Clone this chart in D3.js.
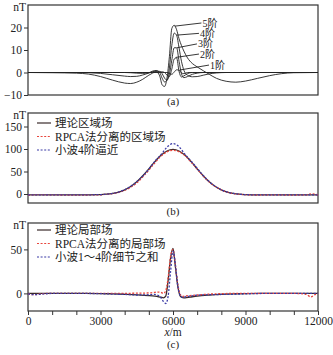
<!DOCTYPE html>
<html>
<head>
<meta charset="utf-8">
<script src="https://cdn.jsdelivr.net/npm/d3@7"></script>
<style>
  body { margin: 0; background: #fff; }
  svg text { font-family: "Liberation Serif", "Noto Sans CJK SC", serif; fill: #222; }
</style>
</head>
<body>
<div id="chart"></div>
<script>
// ---------- panel (a): wavelet details 1~5 ----------
const xA = [0, 1000, 2000, 2500, 3000, 3500, 4000, 4250, 4500, 4750, 5000, 5150, 5300, 5450, 5550, 5650, 5750, 5850, 5950, 6050, 6150, 6250, 6350, 6450, 6600, 6800, 7000, 7250, 7500, 7800, 8200, 8600, 9000, 9500, 10000, 10500, 11000, 12000];
const detail5 = [0, -0.1, -0.3, -0.7, -1.8, -3.4, -4.7, -4.9, -4.3, -3.0, -1.2, -0.3, 0.3, -1.5, -5.5, -6.2, -2.5, 7, 19.5, 21, 19, 15, 12, 9.5, 6.5, 4, 2.5, 0.8, -0.8, -2.6, -3.9, -4.3, -3.8, -2.6, -1.4, -0.5, -0.1, 0];
const detail4 = [0, 0, 0, -0.1, -0.4, -1.0, -1.6, -1.8, -1.7, -1.1, -0.2, 0.6, 0.9, 0, -2.5, -4.2, -3.5, 2, 12, 17.5, 16.5, 11, 5, 1, -1.2, -1.9, -1.8, -1.2, -0.6, -0.2, 0, 0, 0, 0, 0, 0, 0, 0];
const detail3 = [0, 0, 0, 0, 0, 0, 0, -0.1, -0.3, -0.4, -0.2, 0.3, 0.6, 0.5, -0.5, -2.5, -3.4, -1, 5.5, 11, 11, 5, -0.5, -2.3, -1.8, -0.8, -0.3, 0, 0, 0, 0, 0, 0, 0, 0, 0, 0, 0];
const detail2 = [0, 0, 0, 0, 0, 0, 0, 0, 0, 0, 0, 0.1, 0.2, 0.2, 0.3, 0, -1.2, -1.8, 1.5, 6, 6.5, 0.5, -2, -1.5, -0.5, 0, 0, 0, 0, 0, 0, 0, 0, 0, 0, 0, 0, 0];
const detail1 = [0, 0, 0, 0, 0, 0, 0, 0, 0, 0, 0, 0, 0, 0, 0, 0, 0, -0.3, -0.8, 0.2, 1.2, 1.0, -0.2, -0.5, 0, 0, 0, 0, 0, 0, 0, 0, 0, 0, 0, 0, 0, 0];
const detailNames = ["5阶", "4阶", "3阶", "2阶", "1阶"];
// label anchor and leader end, in data units (m, nT)
const labelAt = [[7175, 22.0], [7075, 17.4], [6990, 12.7], [7075, 8.2], [7490, 3.3]];
const leaderTo = [[6070, 20.6], [6140, 16.6], [6165, 11], [6110, 6.7], [6276, 1.1]];
const ticksA = [-10, 0, 10, 20];

// ---------- panel (b): regional field ----------
const xB = [0, 500, 1000, 2000, 3000, 3250, 3500, 3750, 4000, 4250, 4500, 4750, 5000, 5250, 5500, 5750, 6000, 6250, 6500, 6750, 7000, 7250, 7500, 7750, 8000, 8250, 8500, 8750, 9000, 9500, 10000, 11000, 11500, 11750, 12000];
const regionTheory = [-2, -2, -2, -2, -1.3, -0.5, 1.2, 4.1, 9.0, 16.5, 27.0, 40.5, 56.0, 71.9, 85.9, 95.6, 99, 95.6, 85.9, 71.9, 56.0, 40.5, 27.0, 16.5, 9.0, 4.1, 1.2, -0.5, -1.3, -2, -2, -2, -2, -2, -2];
const regionRPCA = [-2.5, -1.5, -2, -2.3, -1.8, -0.5, 0.8, 3.6, 8.2, 15, 24.5, 38, 53, 69.5, 84, 93.5, 97, 94, 85, 71, 55.5, 40, 26.5, 16.8, 9.2, 4.0, 1.0, -0.8, -1.6, -2.2, -2, -2.3, -1.8, 0.5, -2];
const regionWavelet = [-2, -2, -2, -2, -1.3, -0.5, 1.2, 4.3, 9.5, 17, 27.5, 40, 55, 73, 87, 104, 112, 105, 88, 73, 57, 41, 27.5, 17, 9.2, 4.2, 1.2, -0.5, -1.3, -2, -2, -2, -2, -2, -2];
const legendB = ["理论区域场", "RPCA法分离的区域场", "小波4阶逼近"];
const ticksB = [0, 50, 100, 150];

// ---------- panel (c): local field ----------
const xC = [0, 250, 500, 1000, 2000, 3000, 3500, 4000, 4500, 5000, 5250, 5400, 5500, 5600, 5700, 5800, 5900, 6000, 6100, 6200, 6300, 6400, 6500, 6700, 7000, 7500, 8000, 8500, 9000, 10000, 11000, 11500, 11700, 11900, 12000];
const localTheory = [0, 0, 0, 0, 0, -0.2, -0.5, -1, -1.6, -2.5, -3.2, -3.8, -4.3, -5, -3, 15, 40, 51, 30, 8, -3, -4.8, -5, -4.2, -3, -1.8, -1, -0.5, -0.2, 0, 0, 0, 0, 0, 0];
const localRPCA = [-0.5, -1.5, -0.5, 0, 0, 0, 0, 0, 0.3, 0.5, 1.2, 1.5, 1.2, 0, 3, 18, 42, 50, 32, 10, -1, -3.5, -3, -2.5, -1.8, -0.8, -0.3, 0, 0, 0, 0, -1, -4, -1, 0];
const localWavelet = [-0.5, -1.5, -1, 0, 0, -0.3, -0.8, -1.2, -1.8, -1.5, -1.2, -2.5, -5, -9, -11.5, -3, 25, 48, 32, 8, -2.5, -4.5, -4, -3, -2, -1.5, -1.2, -1, -0.5, 0, 0, 0, 0, 0, 0];
const legendC = ["理论局部场", "RPCA法分离的局部场", "小波1～4阶细节之和"];
const ticksC = [0, 50];
const xTicks = [0, 1000, 2000, 3000, 4000, 5000, 6000, 7000, 8000, 9000, 10000, 11000, 12000];
const xLabels = [0, 3000, 6000, 9000, 12000];

const W = 333, H = 355;
const left = 28, right = 318;
const colSolid = "#3a2a2a", colRed = "#e8453c", colBlue = "#3b3ba6";

const svg = d3.select("#chart").append("svg")
    .attr("width", W)
    .attr("height", H);

const x = d3.scaleLinear().domain([0, 12000]).range([left, right]);

function makePanel(top, bottom, domain, ticks, name, nameY) {
    let y = d3.scaleLinear().domain(domain).range([bottom, top]);
    let g = svg.append("g");

    g.append("rect")
        .attr("x", left).attr("y", top)
        .attr("width", right - left).attr("height", bottom - top)
        .attr("fill", "none").attr("stroke", "#333").attr("stroke-width", 1.2);

    let ax = g.append("g")
        .attr("transform", "translate(" + left + ",0)")
        .call(d3.axisLeft(y).tickValues(ticks).tickSize(4).tickPadding(2));
    ax.select(".domain").remove();
    ax.selectAll("line").attr("stroke", "#333");
    ax.selectAll("text").attr("font-size", 11.5).style("font-family", "Liberation Serif").attr("fill", "#222");

    g.append("text")
        .attr("x", left - 2).attr("y", top + 6)
        .attr("text-anchor", "end")
        .attr("font-size", 11.5)
        .text("nT");

    g.append("text")
        .attr("x", (left + right) / 2).attr("y", nameY)
        .attr("text-anchor", "middle")
        .attr("font-size", 11)
        .text(name);

    return {g: g, y: y};
}

function drawLine(panel, xs, ys, color, dash, width) {
    let line = d3.line()
        .x((d, i) => x(xs[i]))
        .y(d => panel.y(d))
        .curve(d3.curveMonotoneX);
    panel.g.append("path")
        .datum(ys)
        .attr("d", line)
        .attr("fill", "none")
        .attr("stroke", color)
        .attr("stroke-width", width)
        .attr("stroke-dasharray", dash);
}

function drawLegend(panel, names, rowY) {
    let styles = [[colSolid, null], [colRed, "2,1.6"], [colBlue, "2,1.6"]];
    names.forEach(function (n, i) {
        panel.g.append("line")
            .attr("x1", 37).attr("x2", 51)
            .attr("y1", rowY[i]).attr("y2", rowY[i])
            .attr("stroke", styles[i][0])
            .attr("stroke-width", 1.2)
            .attr("stroke-dasharray", styles[i][1]);
        panel.g.append("text")
            .attr("x", 55).attr("y", rowY[i] + 4)
            .attr("font-size", 11.5)
            .text(n);
    });
}

// panel (a)
let pa = makePanel(5, 95, [-10, 30], ticksA, "(a)", 105);
[detail1, detail2, detail3, detail4, detail5].forEach(function (d) {
    drawLine(pa, xA, d, "#222", null, 0.9);
});
detailNames.forEach(function (n, i) {
    pa.g.append("line")
        .attr("x1", x(labelAt[i][0])).attr("y1", pa.y(labelAt[i][1]))
        .attr("x2", x(leaderTo[i][0])).attr("y2", pa.y(leaderTo[i][1]))
        .attr("stroke", "#222").attr("stroke-width", 0.9);
    pa.g.append("text")
        .attr("x", x(labelAt[i][0]) + 1).attr("y", pa.y(labelAt[i][1]) + 3.5)
        .attr("font-size", 10)
        .text(n);
});

// panel (b)
let pb = makePanel(113, 203, [-20, 180], ticksB, "(b)", 215);
drawLine(pb, xB, regionTheory, colSolid, null, 1.3);
drawLine(pb, xB, regionRPCA, colRed, "2,1.6", 1.3);
drawLine(pb, xB, regionWavelet, colBlue, "2,1.6", 1.3);
drawLegend(pb, legendB, [123, 136.5, 150]);

// panel (c)
let pc = makePanel(223, 311, [-20, 80], ticksC, "(c)", 348);
drawLine(pc, xC, localTheory, colSolid, null, 1.3);
drawLine(pc, xC, localRPCA, colRed, "2,1.6", 1.3);
drawLine(pc, xC, localWavelet, colBlue, "2,1.6", 1.3);
drawLegend(pc, legendC, [230, 243.5, 257]);

let xa = pc.g.append("g")
    .attr("transform", "translate(0,311)")
    .call(d3.axisBottom(x).tickValues(xTicks).tickSize(4).tickPadding(2)
        .tickFormat(d => xLabels.includes(d) ? d : ""));
xa.select(".domain").remove();
xa.selectAll("line").attr("stroke", "#333");
xa.selectAll("text").attr("font-size", 11.5).style("font-family", "Liberation Serif").attr("fill", "#222");

let xt = pc.g.append("text")
    .attr("x", (left + right) / 2).attr("y", 336)
    .attr("text-anchor", "middle")
    .attr("font-size", 11.5);
xt.append("tspan").attr("font-style", "italic").text("x");
xt.append("tspan").text("/m");
</script>
</body>
</html>
